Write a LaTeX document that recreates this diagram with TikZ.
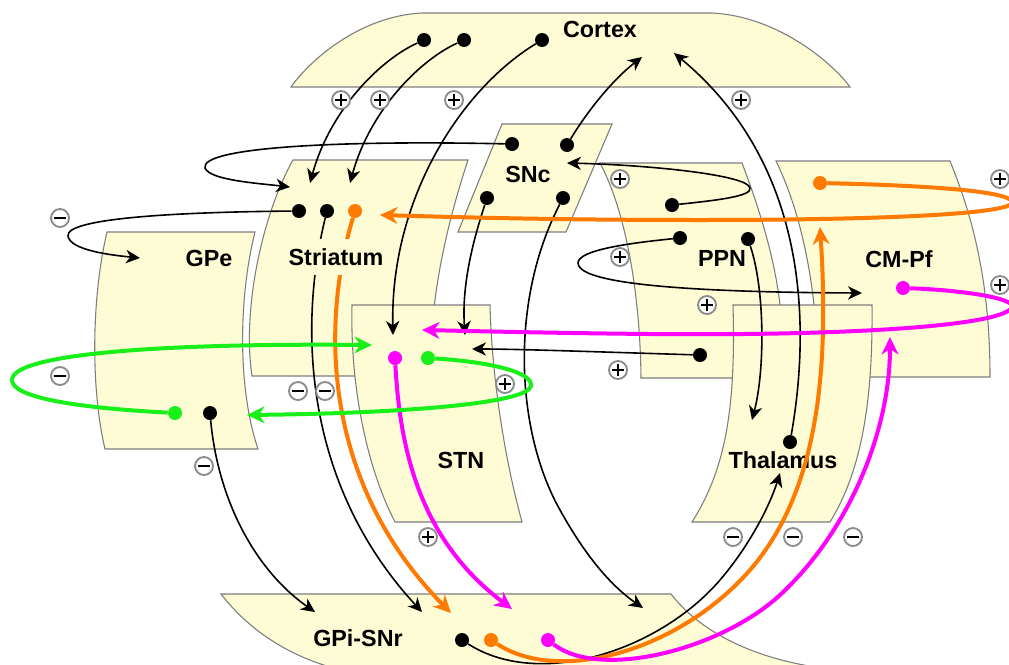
\documentclass[tikz,border=0pt]{standalone}
\usepackage{fontspec}
\setmainfont{Liberation Sans}
\usetikzlibrary{arrows.meta}

\definecolor{boxfill}{RGB}{254,252,212}
\definecolor{boxline}{RGB}{125,125,125}
\definecolor{pathorange}{RGB}{255,122,0}
\definecolor{pathmag}{RGB}{255,0,255}
\definecolor{pathgreen}{RGB}{25,240,25}

\tikzset{
  region/.style={fill=boxfill, draw=boxline, line width=0.8pt},
  lbl/.style={font=\fontsize{17.5}{17.5}\selectfont\bfseries, inner sep=1pt},
  bdot/.style={circle, fill=black, inner sep=0pt, minimum size=10.5pt},
  odot/.style={bdot, fill=pathorange},
  mdot/.style={bdot, fill=pathmag},
  gdot/.style={bdot, fill=pathgreen},
  thinlink/.style={draw=black, line width=1.2pt, -{Stealth[length=10.5pt,width=10pt,inset=3.2pt]}},
  thicklink/.style={line width=3pt, -{Stealth[length=13pt,width=12.5pt,inset=4pt]}},
  sign/.style={circle, draw=black!45, fill=white, line width=1.4pt, minimum size=13.5pt, inner sep=0pt},
  exc/.style={sign, path picture={
      \draw[black, line width=1.5pt] (path picture bounding box.center) ++(-4.3pt,0) -- ++(8.6pt,0);
      \draw[black, line width=1.5pt] (path picture bounding box.center) ++(0,-4.3pt) -- ++(0,8.6pt);}},
  inh/.style={sign, path picture={
      \draw[black, line width=1.8pt] (path picture bounding box.center) ++(-4.3pt,0) -- ++(8.6pt,0);}}
}

\begin{document}
\begin{tikzpicture}[x=0.75pt, y=-0.75pt]
\fill[white] (0,0) rectangle (1009,664);
\useasboundingbox (0,0) rectangle (1009,664);

% ---------- brain regions ----------
% Cortex
\path[region] (291,87) .. controls (310,60) and (360,16) .. (422,13) -- (712,13)
  .. controls (775,16) and (830,60) .. (850,87) -- cycle;
% GPe
\path[region] (107,232) -- (255,232) .. controls (238,300) and (238,390) .. (258,449)
  -- (105,449) .. controls (91,390) and (91,300) .. (107,232) -- cycle;
% Striatum
\path[region] (293,160) -- (468,160) .. controls (445,230) and (430,300) .. (430,376)
  -- (252,376) .. controls (242,310) and (262,215) .. (293,160) -- cycle;
% SNc
\path[region] (502,124) -- (612,124) -- (566,232) -- (458,232) -- cycle;
% PPN
\path[region] (600,163) -- (742,163) .. controls (760,210) and (775,260) .. (780,305)
  -- (784,378) -- (641,378) .. controls (640,290) and (625,210) .. (600,163) -- cycle;
% CM-Pf
\path[region] (776,161) -- (950,161) .. controls (972,215) and (990,280) .. (990,377)
  -- (835,377) -- (814,305) .. controls (808,250) and (795,200) .. (776,161) -- cycle;
% STN
\path[region] (352,305) -- (490,305) .. controls (492,380) and (505,460) .. (522,522)
  -- (395,522) .. controls (368,470) and (350,390) .. (352,305) -- cycle;
% Thalamus
\path[region] (733,305) -- (872,305) .. controls (873,400) and (862,470) .. (830,522)
  -- (692,522) .. controls (725,470) and (736,410) .. (733,305) -- cycle;
% GPi-SNr
\path[region] (221,594) -- (671,594) .. controls (695,625) and (740,655) .. (815,667)
  -- (330,667) .. controls (280,652) and (245,625) .. (221,594) -- cycle;

% ---------- region names ----------
\node[lbl] (cortexL) at (600,29) {Cortex};
\node[lbl] (sncL) at (528,174) {SNc};
\node[lbl] (gpeL) at (209,258) {GPe};
\node[lbl] (ppnL) at (722,258) {PPN};
\node[lbl] (cmpfL) at (899,259) {CM-Pf};
\node[lbl] (stnL) at (461,460) {STN};
\node[lbl] (thalL) at (783,460) {Thalamus};
\node[lbl] (gpiL) at (358,638) {GPi-SNr};

% ---------- cell bodies ----------
\node[bdot] (cx1) at (424,40) {};
\node[bdot] (cx2) at (464,40) {};
\node[bdot] (cx3) at (542,40) {};
\node[bdot] (sn1) at (512,144) {};
\node[bdot] (sn2) at (567,145) {};
\node[bdot] (sn3) at (487,198) {};
\node[bdot] (sn4) at (563,198) {};
\node[bdot] (st1) at (299,211) {};
\node[bdot] (st2) at (327,211) {};
\node[odot] (st3) at (355,211) {};
\node[bdot] (pp1) at (672,205) {};
\node[bdot] (pp2) at (680,238) {};
\node[bdot] (pp3) at (748,239) {};
\node[bdot] (pp4) at (700,355) {};
\node[odot] (cm1) at (820,183) {};
\node[mdot] (cm2) at (903,288) {};
\node[gdot] (ge1) at (175,413) {};
\node[bdot] (ge2) at (210,413) {};
\node[mdot] (sT1) at (395,358) {};
\node[gdot] (sT2) at (428,358) {};
\node[bdot] (th1) at (790,442) {};
\node[bdot] (gp1) at (462,640) {};
\node[odot] (gp2) at (491,640) {};
\node[mdot] (gp3) at (548,640) {};

% ---------- terminals ----------
\coordinate (tStrA) at (310,183);
\coordinate (tStrB) at (350,183);
\coordinate (tStrC) at (290,187);
\coordinate (tStrO) at (380,215);
\coordinate (tGPe) at (140,258);
\coordinate (tGPeG) at (247,415);
\coordinate (tSTNa) at (393,335);
\coordinate (tSTNb) at (465,335);
\coordinate (tSTNc) at (472,349);
\coordinate (tSTNm) at (422,330);
\coordinate (tSTNg) at (372,345);
\coordinate (tSNc) at (567,163);
\coordinate (tCxA) at (642,57);
\coordinate (tCxB) at (674,53);
\coordinate (tCM) at (862,293);
\coordinate (tCMo) at (820,227);
\coordinate (tCMm) at (890,337);
\coordinate (tTh) at (752,420);
\coordinate (tThB) at (780,473);
\coordinate (tGPa) at (315,612);
\coordinate (tGPb) at (422,612);
\coordinate (tGPo) at (451,613);
\coordinate (tGPm) at (512,609);
\coordinate (tGPc) at (643,608);

% ---------- black projections ----------
\draw[thinlink] (cx1) .. controls (380,60) and (330,110) .. (tStrA);
\draw[thinlink] (cx2) .. controls (420,60) and (370,110) .. (tStrB);
\draw[thinlink] (cx3) .. controls (460,90) and (390,200) .. (tSTNa);
\draw[thinlink] (sn2) .. controls (585,115) and (610,82) .. (tCxA);
\draw[thinlink] (th1) .. controls (808,340) and (815,170) .. (tCxB);
\draw[thinlink] (sn1) .. controls (330,140) and (200,148) .. (205,168)
  .. controls (210,180) and (255,183) .. (tStrC);
\draw[thinlink] (st1) .. controls (180,212) and (65,218) .. (68,236)
  .. controls (70,250) and (110,255) .. (tGPe);
\draw[thinlink] (st2) .. controls (300,320) and (300,480) .. (tGPb);
\draw[thinlink] (sn3) .. controls (470,250) and (462,290) .. (tSTNb);
\draw[thinlink] (sn4) .. controls (510,300) and (515,430) .. (560,510)
  .. controls (585,555) and (610,585) .. (tGPc);
\draw[thinlink] (pp1) .. controls (720,200) and (752,196) .. (750,188)
  .. controls (748,175) and (650,165) .. (tSNc);
\draw[thinlink] (pp2) .. controls (630,243) and (578,250) .. (578,263)
  .. controls (578,280) and (650,292) .. (tCM);
\draw[thinlink] (pp3) .. controls (765,290) and (765,370) .. (tTh);
\draw[thinlink] (pp4) .. controls (600,352) and (520,349) .. (tSTNc);
\draw[thinlink] (ge2) .. controls (218,500) and (255,570) .. (tGPa);
\draw[thinlink] (gp1) .. controls (540,690) and (660,650) .. (720,580)
  .. controls (750,545) and (770,505) .. (tThB);

% ---------- orange projections ----------
\draw[thicklink, pathorange] (cm1) .. controls (950,186) and (1015,193) .. (1012,203)
  .. controls (1008,213) and (900,220) .. (700,220)
  .. controls (550,220) and (450,217) .. (tStrO);
\draw[thicklink, pathorange] (st3) .. controls (322,320) and (320,480) .. (tGPo);
\draw[thicklink, pathorange] (gp2) .. controls (560,685) and (680,650) .. (750,570)
  .. controls (815,495) and (830,380) .. (tCMo);

% ---------- magenta projections ----------
\draw[thicklink, pathmag] (cm2) .. controls (960,290) and (1015,298) .. (1012,307)
  .. controls (1005,325) and (860,336) .. (650,334)
  .. controls (550,333) and (470,331) .. (tSTNm);
\draw[thicklink, pathmag] (sT1) .. controls (400,450) and (420,540) .. (tGPm);
\draw[thicklink, pathmag] (gp3) .. controls (600,680) and (720,650) .. (780,595)
  .. controls (850,530) and (890,430) .. (tCMm);

% ---------- green projections ----------
\draw[thicklink, pathgreen] (ge1) .. controls (80,408) and (12,398) .. (12,380)
  .. controls (12,355) and (150,343) .. (tSTNg);
\draw[thicklink, pathgreen] (sT2) .. controls (490,362) and (533,372) .. (531,386)
  .. controls (528,402) and (420,413) .. (tGPeG);

% Striatum name sits on a patch of its own colour
\node[lbl, fill=boxfill, inner ysep=7pt, inner xsep=1pt] (strL) at (336,257) {Striatum};

% ---------- excitatory / inhibitory marks ----------
\foreach \p in {(341,100),(380,100),(454,100),(741,100),(620,179),(620,257),
                (707,305),(618,370),(1000,179),(1000,285),(505,384),(428,537)}
  \node[exc] at \p {};
\foreach \p in {(60,218),(60,376),(298,391),(325,391),(204,466),
                (733,537),(793,537),(853,537)}
  \node[inh] at \p {};
\end{tikzpicture}
\end{document}
